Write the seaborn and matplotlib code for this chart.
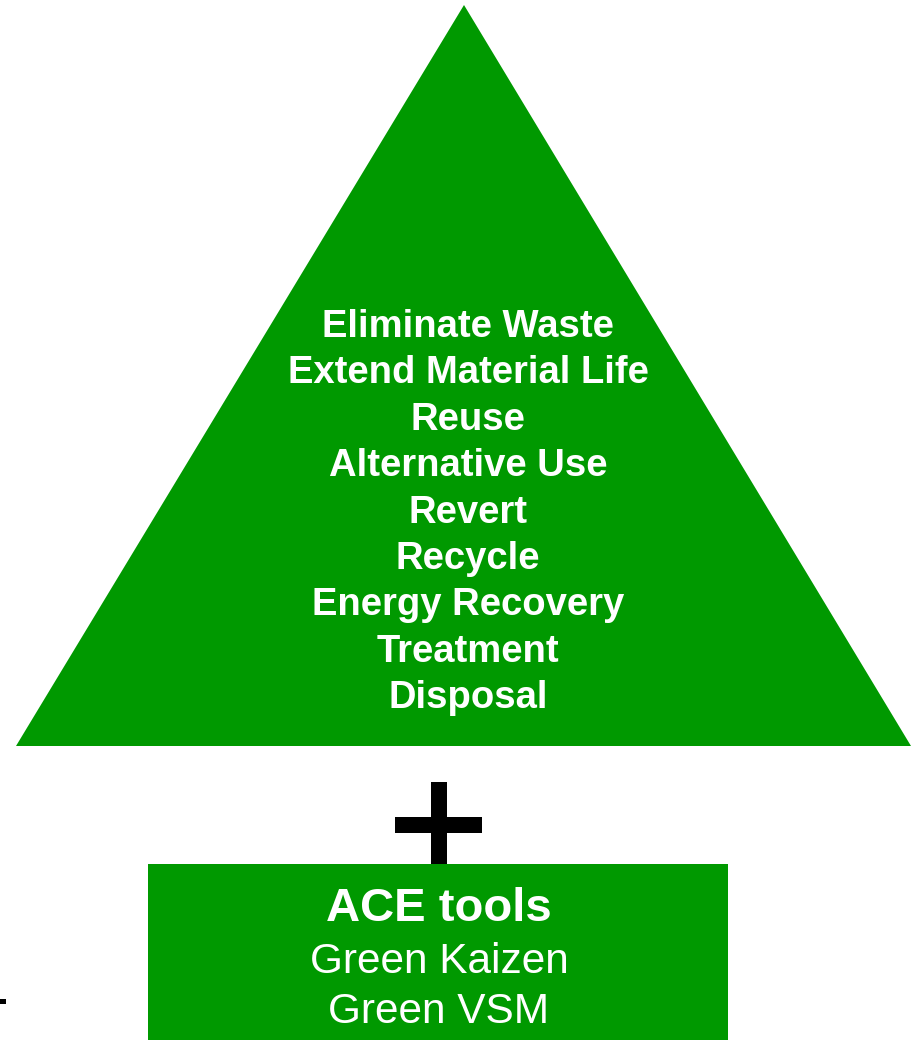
import matplotlib
matplotlib.use("Agg")
import matplotlib.pyplot as plt
import seaborn as sns
from matplotlib.patches import Polygon, Rectangle

sns.set_theme(style="white")
plt.rcParams['font.family'] = ['Liberation Sans', 'DejaVu Sans']

# Waste hierarchy levels, top to bottom
levels = ["Eliminate Waste", "Extend Material Life", "Reuse", "Alternative Use",
          "Revert", "Recycle", "Energy Recovery", "Treatment", "Disposal"]
box_title = "ACE tools"
box_items = ["Green Kaizen", "Green VSM"]

green = "#009900"

fig = plt.figure(figsize=(9.17, 10.40), dpi=100)
ax = fig.add_axes([0, 0, 1, 1])
ax.set_xlim(0, 917)
ax.set_ylim(1040, 0)
ax.axis("off")

# triangle
ax.add_patch(Polygon([(464, 5), (16, 746), (911, 746)], closed=True,
                     facecolor=green, edgecolor="none"))

# hierarchy text
y0, step = 327, 46.4
for i, lab in enumerate(levels):
    ax.text(468, y0 + i * step, lab, ha="center", va="center",
            color="white", fontsize=27.5, fontweight="bold")

# plus sign
ax.add_patch(Rectangle((431, 782), 16, 84, facecolor="black", edgecolor="none"))
ax.add_patch(Rectangle((395, 817), 87, 16, facecolor="black", edgecolor="none"))

# ACE tools box
ax.add_patch(Rectangle((148, 864), 580, 180, facecolor=green, edgecolor="none"))
ax.text(439, 909, box_title, ha="center", va="center", color="white",
        fontsize=34, fontweight="bold")
for i, lab in enumerate(box_items):
    ax.text(439, 962 + i * 50, lab, ha="center", va="center", color="white",
            fontsize=30.5)

# small stray mark at left edge
ax.add_patch(Rectangle((0, 999), 6, 5, facecolor="black", edgecolor="none"))

fig.savefig("out.png", dpi=100)
